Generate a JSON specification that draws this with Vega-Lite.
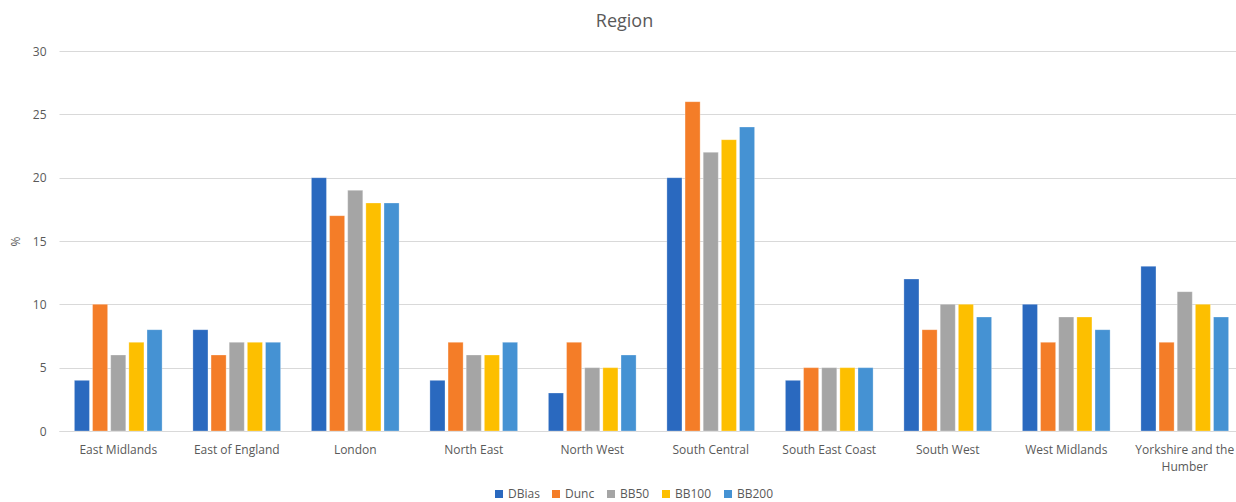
{
  "$schema": "https://vega.github.io/schema/vega-lite/v6.json",
  "autosize": "none",
  "width": 1185,
  "height": 380,
  "padding": {"left": 59, "top": 51, "right": 0, "bottom": 71},
  "background": "white",
  "view": {"stroke": null},
  "title": {
    "text": "Region",
    "fontSize": 18,
    "font": "Open Sans",
    "fontWeight": "normal",
    "color": "#595959",
    "anchor": "middle",
    "dx": -27,
    "offset": 14
  },
  "data": {
    "values": [
      {"region": "East Midlands", "series": "DBias", "value": 4},
      {"region": "East Midlands", "series": "Dunc", "value": 10},
      {"region": "East Midlands", "series": "BB50", "value": 6},
      {"region": "East Midlands", "series": "BB100", "value": 7},
      {"region": "East Midlands", "series": "BB200", "value": 8},
      {"region": "East of England", "series": "DBias", "value": 8},
      {"region": "East of England", "series": "Dunc", "value": 6},
      {"region": "East of England", "series": "BB50", "value": 7},
      {"region": "East of England", "series": "BB100", "value": 7},
      {"region": "East of England", "series": "BB200", "value": 7},
      {"region": "London", "series": "DBias", "value": 20},
      {"region": "London", "series": "Dunc", "value": 17},
      {"region": "London", "series": "BB50", "value": 19},
      {"region": "London", "series": "BB100", "value": 18},
      {"region": "London", "series": "BB200", "value": 18},
      {"region": "North East", "series": "DBias", "value": 4},
      {"region": "North East", "series": "Dunc", "value": 7},
      {"region": "North East", "series": "BB50", "value": 6},
      {"region": "North East", "series": "BB100", "value": 6},
      {"region": "North East", "series": "BB200", "value": 7},
      {"region": "North West", "series": "DBias", "value": 3},
      {"region": "North West", "series": "Dunc", "value": 7},
      {"region": "North West", "series": "BB50", "value": 5},
      {"region": "North West", "series": "BB100", "value": 5},
      {"region": "North West", "series": "BB200", "value": 6},
      {"region": "South Central", "series": "DBias", "value": 20},
      {"region": "South Central", "series": "Dunc", "value": 26},
      {"region": "South Central", "series": "BB50", "value": 22},
      {"region": "South Central", "series": "BB100", "value": 23},
      {"region": "South Central", "series": "BB200", "value": 24},
      {"region": "South East Coast", "series": "DBias", "value": 4},
      {"region": "South East Coast", "series": "Dunc", "value": 5},
      {"region": "South East Coast", "series": "BB50", "value": 5},
      {"region": "South East Coast", "series": "BB100", "value": 5},
      {"region": "South East Coast", "series": "BB200", "value": 5},
      {"region": "South West", "series": "DBias", "value": 12},
      {"region": "South West", "series": "Dunc", "value": 8},
      {"region": "South West", "series": "BB50", "value": 10},
      {"region": "South West", "series": "BB100", "value": 10},
      {"region": "South West", "series": "BB200", "value": 9},
      {"region": "West Midlands", "series": "DBias", "value": 10},
      {"region": "West Midlands", "series": "Dunc", "value": 7},
      {"region": "West Midlands", "series": "BB50", "value": 9},
      {"region": "West Midlands", "series": "BB100", "value": 9},
      {"region": "West Midlands", "series": "BB200", "value": 8},
      {"region": "Yorkshire and the Humber", "series": "DBias", "value": 13},
      {"region": "Yorkshire and the Humber", "series": "Dunc", "value": 7},
      {"region": "Yorkshire and the Humber", "series": "BB50", "value": 11},
      {"region": "Yorkshire and the Humber", "series": "BB100", "value": 10},
      {"region": "Yorkshire and the Humber", "series": "BB200", "value": 9}
    ]
  },
  "mark": {"type": "bar", "stroke": "#ffffff", "strokeOpacity": 0.35, "strokeWidth": 0.8},
  "encoding": {
    "x": {
      "field": "region",
      "type": "nominal",
      "sort": null,
      "scale": {"paddingInner": 0.26, "paddingOuter": 0.13},
      "axis": {
        "title": null,
        "labelAngle": 0,
        "labelFont": "Open Sans",
        "labelFontSize": 12,
        "labelColor": "#595959",
        "labelPadding": 13,
        "labelLineHeight": 17,
        "ticks": false,
        "domainColor": "#d9d9d9",
        "domainWidth": 1,
        "labelExpr": "datum.label == 'Yorkshire and the Humber' ? ['Yorkshire and the', 'Humber'] : datum.label"
      }
    },
    "xOffset": {
      "field": "series",
      "type": "nominal",
      "sort": ["DBias", "Dunc", "BB50", "BB100", "BB200"],
      "scale": {"paddingInner": 0.17, "paddingOuter": 0}
    },
    "y": {
      "field": "value",
      "type": "quantitative",
      "scale": {"domain": [0, 30]},
      "axis": {
        "title": "%",
        "titleFont": "Open Sans",
        "titleFontSize": 12,
        "titleFontWeight": "normal",
        "titleColor": "#595959",
        "titlePadding": 10,
        "values": [0, 5, 10, 15, 20, 25, 30],
        "labelFont": "Open Sans",
        "labelFontSize": 12,
        "labelColor": "#595959",
        "labelPadding": 13,
        "ticks": false,
        "domain": false,
        "gridColor": "#d9d9d9",
        "gridWidth": 1
      }
    },
    "color": {
      "field": "series",
      "type": "nominal",
      "sort": ["DBias", "Dunc", "BB50", "BB100", "BB200"],
      "scale": {
        "domain": ["DBias", "Dunc", "BB50", "BB100", "BB200"],
        "range": ["#2a69bf", "#f47d28", "#a5a5a5", "#fdbf00", "#4592d3"]
      },
      "legend": {
        "title": null,
        "orient": "none",
        "direction": "horizontal",
        "legendX": 434,
        "legendY": 437,
        "symbolType": "square",
        "symbolSize": 64,
        "symbolStrokeWidth": 0,
        "labelFont": "Open Sans",
        "labelFontSize": 12,
        "labelColor": "#595959",
        "labelOffset": 3,
        "columnPadding": 10
      }
    }
  }
}
